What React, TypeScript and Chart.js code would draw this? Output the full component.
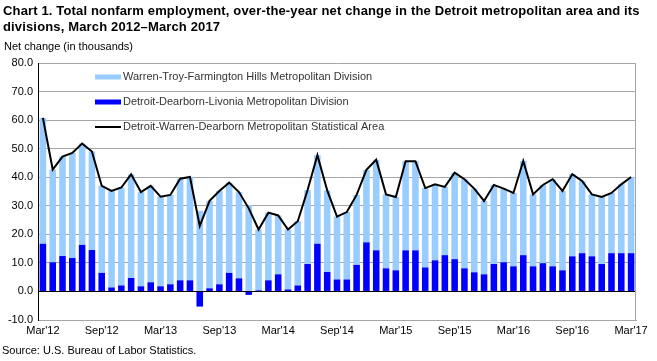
import React, { useEffect, useRef } from "react";
import { Chart, registerables } from "chart.js";

Chart.register(...registerables);

const CATEGORIES = [
  "Mar'12","Apr'12","May'12","Jun'12","Jul'12","Aug'12","Sep'12","Oct'12","Nov'12","Dec'12","Jan'13","Feb'13",
  "Mar'13","Apr'13","May'13","Jun'13","Jul'13","Aug'13","Sep'13","Oct'13","Nov'13","Dec'13","Jan'14","Feb'14",
  "Mar'14","Apr'14","May'14","Jun'14","Jul'14","Aug'14","Sep'14","Oct'14","Nov'14","Dec'14","Jan'15","Feb'15",
  "Mar'15","Apr'15","May'15","Jun'15","Jul'15","Aug'15","Sep'15","Oct'15","Nov'15","Dec'15","Jan'16","Feb'16",
  "Mar'16","Apr'16","May'16","Jun'16","Jul'16","Aug'16","Sep'16","Oct'16","Nov'16","Dec'16","Jan'17","Feb'17",
  "Mar'17",
];

const TICK_LABELS = ["Mar'12","Sep'12","Mar'13","Sep'13","Mar'14","Sep'14","Mar'15","Sep'15","Mar'16","Sep'16","Mar'17"];

const WARREN_TROY = [
  44.1, 32.5, 34.8, 36.8, 35.5, 34.5, 30.5, 33.8, 34.3, 36.3, 33.0, 33.8,
  31.4, 31.3, 35.6, 36.2, 28.2, 30.6, 32.7, 31.6, 30.2, 30.3, 21.3, 23.7,
  20.6, 21.0, 22.5, 25.9, 31.0, 28.6, 22.0, 23.6, 24.5, 25.4, 31.7, 25.9,
  25.7, 31.2, 31.2, 27.8, 26.6, 23.9, 30.3, 31.2, 29.3, 25.7, 27.7, 25.8,
  25.7, 33.0, 25.2, 27.4, 30.5, 27.8, 28.8, 25.3, 21.7, 23.5, 21.1, 24.1,
  26.7,
];

const DETROIT_DEARBORN = [
  16.7, 10.2, 12.4, 11.7, 16.3, 14.5, 6.5, 1.4, 2.1, 4.7, 1.8, 3.2,
  1.8, 2.5, 3.9, 3.9, -5.3, 1.1, 2.5, 6.5, 4.6, -1.2, 0.4, 3.9,
  6.0, 0.7, 2.1, 9.6, 16.7, 6.8, 4.2, 4.2, 9.3, 17.2, 14.4, 8.1,
  7.4, 14.4, 14.4, 8.4, 10.9, 12.7, 11.3, 8.1, 6.7, 6.0, 9.6, 10.2,
  8.8, 12.7, 8.8, 9.9, 8.8, 7.4, 12.3, 13.4, 12.3, 9.6, 13.4, 13.4,
  13.4,
];

const MSA_TOTAL = [
  60.8, 42.7, 47.2, 48.5, 51.8, 49.0, 37.0, 35.2, 36.4, 41.0, 34.8, 37.0,
  33.2, 33.8, 39.5, 40.1, 22.9, 31.7, 35.2, 38.1, 34.8, 29.1, 21.7, 27.6,
  26.6, 21.7, 24.6, 35.5, 47.7, 35.4, 26.2, 27.8, 33.8, 42.6, 46.1, 34.0,
  33.1, 45.6, 45.6, 36.2, 37.5, 36.6, 41.6, 39.3, 36.0, 31.7, 37.3, 36.0,
  34.5, 45.7, 34.0, 37.3, 39.3, 35.2, 41.1, 38.7, 34.0, 33.1, 34.5, 37.5,
  40.1,
];

const SERIES_NAMES = [
  "Warren-Troy-Farmington Hills Metropolitan Division",
  "Detroit-Dearborn-Livonia Metropolitan Division",
  "Detroit-Warren-Dearborn Metropolitan Statistical Area",
];

const FONT = '"Liberation Sans", Arial, sans-serif';
const LIGHT = "#99ccff";
const DARK = "#0000ff";

const framePlugin = {
  id: "frame",
  afterDraw(chart: any) {
    const { ctx, chartArea } = chart;
    ctx.save();
    ctx.strokeStyle = "#a6a6a6";
    ctx.lineWidth = 1;
    const xr = Math.round(chartArea.right) - 0.5;
    ctx.beginPath();
    ctx.moveTo(xr, chartArea.top);
    ctx.lineTo(xr, chartArea.bottom);
    ctx.stroke();

    // legend inside plot area
    const x0 = chartArea.left + 57;
    const ys = [chartArea.top + 14, chartArea.top + 39, chartArea.top + 64];
    ctx.font = `11px ${FONT}`;
    ctx.textBaseline = "middle";
    SERIES_NAMES.forEach((name, i) => {
      const y = ys[i];
      if (i === 0) {
        ctx.fillStyle = LIGHT;
        ctx.fillRect(x0, y - 2.5, 26, 5);
      } else if (i === 1) {
        ctx.fillStyle = DARK;
        ctx.fillRect(x0, y - 2.5, 26, 5);
      } else {
        ctx.strokeStyle = "#000";
        ctx.lineWidth = 2;
        ctx.beginPath();
        ctx.moveTo(x0, y);
        ctx.lineTo(x0 + 26, y);
        ctx.stroke();
      }
      ctx.fillStyle = "#333333";
      ctx.fillText(name, x0 + 28, y);
    });
    ctx.restore();
  },
};

export default function App() {
  const ref = useRef<HTMLCanvasElement>(null);

  useEffect(() => {
    if (!ref.current) return;
    const chart = new Chart(ref.current, {
      type: "bar",
      data: {
        labels: CATEGORIES,
        datasets: [
          {
            type: "bar",
            label: SERIES_NAMES[1],
            data: DETROIT_DEARBORN,
            backgroundColor: DARK,
            stack: "bars",
            order: 1,
            barPercentage: 0.67,
            categoryPercentage: 1,
          },
          {
            type: "bar",
            label: SERIES_NAMES[0],
            data: WARREN_TROY,
            backgroundColor: LIGHT,
            stack: "bars",
            order: 1,
            barPercentage: 0.67,
            categoryPercentage: 1,
          },
          {
            type: "line",
            label: SERIES_NAMES[2],
            data: MSA_TOTAL,
            borderColor: "#000000",
            borderWidth: 2,
            pointRadius: 0,
            tension: 0,
            stack: "total",
            order: 0,
          } as any,
        ],
      },
      options: {
        animation: false,
        responsive: false,
        maintainAspectRatio: false,
        layout: { padding: { top: 63, right: 21, bottom: 21, left: 0 } },
        plugins: {
          legend: { display: false },
          tooltip: { enabled: false },
          title: { display: false },
        },
        scales: {
          x: {
            stacked: true,
            offset: true,
            grid: { display: false, drawTicks: false, tickLength: 0 },
            border: { display: true, color: "#a6a6a6" },
            ticks: {
              autoSkip: false,
              maxRotation: 0,
              minRotation: 0,
              padding: 4,
              color: "#000",
              font: { family: FONT, size: 11 },
              callback: function (this: any, _v: any, i: number) {
                const lab = CATEGORIES[i];
                return TICK_LABELS.includes(lab) ? lab : "";
              },
            },
            afterFit(scale: any) {
              scale.height = 20;
            },
          },
          y: {
            stacked: true,
            min: -10,
            max: 80,
            ticks: {
              stepSize: 10,
              padding: 5,
              color: "#000",
              font: { family: FONT, size: 11 },
              callback: (v: any) => Number(v).toFixed(1),
            },
            grid: {
              drawTicks: false,
              color: (c: any) => (c.tick && c.tick.value === 0 ? "#000000" : "#a6a6a6"),
            },
            border: { display: true, color: "#000000" },
            afterFit(scale: any) {
              scale.width = 38;
            },
          },
        },
      },
      plugins: [framePlugin],
    });
    return () => chart.destroy();
  }, []);

  return (
    <div
      style={{
        position: "absolute",
        left: 0,
        top: 0,
        width: 657,
        height: 361,
        background: "#fff",
        fontFamily: FONT,
        color: "#000",
        overflow: "hidden",
      }}
    >
      <canvas ref={ref} width={657} height={361} style={{ position: "absolute", left: 0, top: 0, width: 657, height: 361 }} />
      <div style={{ position: "absolute", left: 3, top: 3, fontWeight: "bold", fontSize: 13, lineHeight: "16px", letterSpacing: "0.15px", whiteSpace: "nowrap" }}>
        Chart 1. Total nonfarm employment, over-the-year net change in the Detroit metropolitan area and its
        <br />
        divisions, March 2012–March 2017
      </div>
      <div style={{ position: "absolute", left: 4, top: 40, fontSize: 11, whiteSpace: "nowrap" }}>
        Net change (in thousands)
      </div>
      <div style={{ position: "absolute", left: 2, top: 344, fontSize: 11, whiteSpace: "nowrap" }}>
        Source: U.S. Bureau of Labor Statistics.
      </div>
    </div>
  );
}
